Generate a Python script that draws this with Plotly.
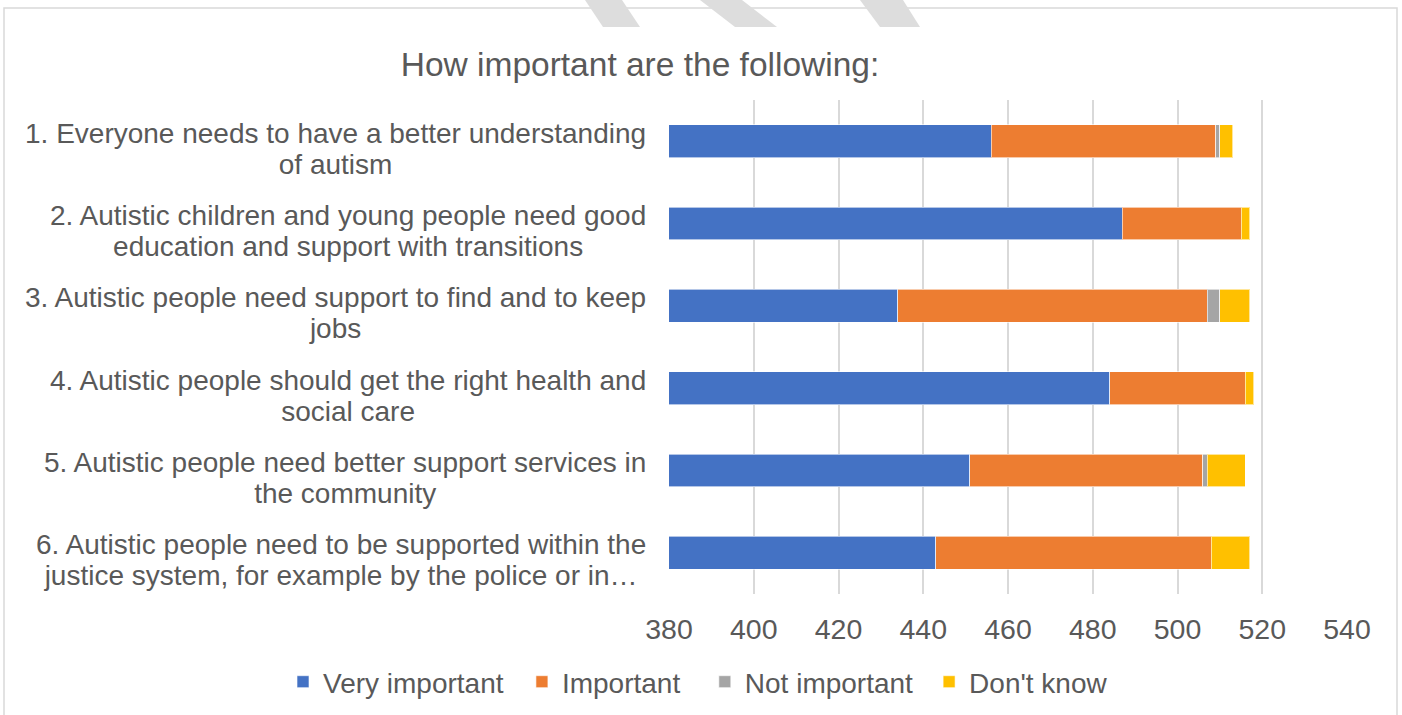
import plotly.graph_objects as go

# ---- data ----
line1 = [
    "1. Everyone needs to have a better understanding",
    "2. Autistic children and young people need good",
    "3. Autistic people need support to find and to keep",
    "4. Autistic people should get the right health and",
    "5. Autistic people need better support services in",
    "6. Autistic people need to be supported within the",
]
line2 = [
    "of autism",
    "education and support with transitions",
    "jobs",
    "social care",
    "the community",
    "justice system, for example by the police or in…",
]
categories = [f"Q{i+1}" for i in range(6)]
series_names = ["Very important", "Important", "Not important", "Don't know"]
very_important = [456, 487, 434, 484, 451, 443]
important = [53, 28, 73, 32, 55, 65]
not_important = [1, 0, 3, 0, 1, 0]
dont_know = [3, 2, 7, 2, 9, 9]
x_ticks = [380, 400, 420, 440, 460, 480, 500, 520, 540]
title_text = "How important are the following:"

colors = ["#4472C4", "#ED7D31", "#A5A5A5", "#FFC000"]
# extra invisible padding after legend labels to mimic the reference spacing
legend_pad = ["\u00a0\u2009", "\u2002\u2009", "\u2009\u2009", ""]
FONT = "Liberation Sans, Arial, sans-serif"
GREY = "#595959"

W, H = 1402, 715
L, R, T, B = 669, 55, 100, 121
pw, ph = W - L - R, H - T - B


def px(x):
    return (x - L) / pw


def py(y):
    return 1 - (y - T) / ph


fig = go.Figure()
for name, pad, vals, col in zip(series_names, legend_pad,
                                [very_important, important, not_important, dont_know],
                                colors):
    fig.add_trace(go.Bar(
        y=categories, x=vals, name=name + pad, orientation="h",
        marker=dict(color=col, line=dict(color="rgba(255,255,255,0.6)", width=1)),
    ))

annotations = []
for cat, a, b in zip(categories, line1, line2):
    annotations.append(dict(
        x=px(648), xref="paper", xanchor="right",
        y=cat, yref="y", yanchor="middle", yshift=-7.5,
        align="center", showarrow=False,
        text=f'<span style="font-size:28px">{a}</span><br>'
             f'<span style="font-size:28px">{b}</span>',
        font=dict(family=FONT, size=31 / 1.3, color=GREY),
    ))

shapes = [
    # outer chart frame
    dict(type="rect", xref="paper", yref="paper",
         x0=px(4), x1=px(1397), y0=py(722), y1=py(8),
         line=dict(color="#D9D9D9", width=1.5), layer="below"),
]
# faint watermark stripes at top
for (a0, a1, b0, b1) in [(585, 622, 603, 640), (700, 742, 735, 777), (860, 903, 880, 920)]:
    shapes.append(dict(
        type="path", xref="paper", yref="paper",
        path=f"M{px(a0)},{py(0)} L{px(a1)},{py(0)} L{px(b1)},{py(27)} L{px(b0)},{py(27)} Z",
        fillcolor="#DDDDDD", line=dict(width=0), layer="below"))

fig.update_layout(
    width=W, height=H,
    margin=dict(l=L, r=R, t=T, b=B, autoexpand=False),
    paper_bgcolor="white", plot_bgcolor="white",
    barmode="stack", bargap=0.6,
    font=dict(family=FONT, color=GREY, size=28),
    title=dict(text=title_text, x=640 / W, xanchor="center",
               y=1 - 64 / H, yanchor="middle",
               font=dict(family=FONT, size=33.5, color=GREY)),
    xaxis=dict(range=[380, 540], tickvals=x_ticks, showgrid=True,
               gridcolor="#D9D9D9", gridwidth=1.5, zeroline=False,
               showline=False, ticks="", ticklabelstandoff=15,
               tickfont=dict(family=FONT, size=28.5, color=GREY)),
    yaxis=dict(autorange="reversed", showticklabels=False, showgrid=False,
               zeroline=False, showline=False, ticks=""),
    legend=dict(orientation="h", xref="paper", yref="paper",
                x=px(283), xanchor="left", y=py(682), yanchor="middle",
                font=dict(family=FONT, size=28, color=GREY),
                traceorder="normal"),
    annotations=annotations,
    shapes=shapes,
    showlegend=True,
)

fig.write_html("out.html")
